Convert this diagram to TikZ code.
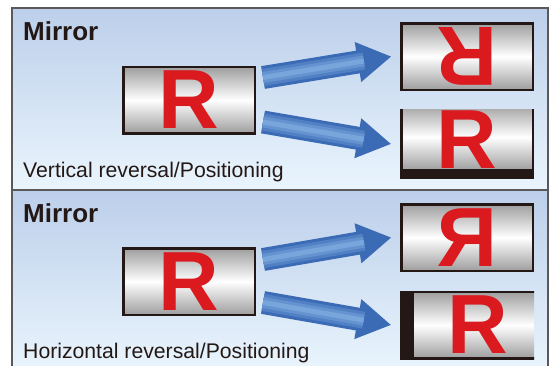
\documentclass[tikz,border=0pt]{standalone}
\usepackage{fontspec}
\setmainfont{Liberation Sans}
\usepackage{tikz}
\usetikzlibrary{arrows.meta}
\definecolor{ink}{HTML}{231815}
\definecolor{framegray}{HTML}{5A5858}
\definecolor{panetop}{HTML}{BCCFEA}
\definecolor{panebot}{HTML}{EAF5FD}
\definecolor{boxgray}{HTML}{9E9E9E}
\definecolor{rred}{HTML}{DA1A1F}
\definecolor{arrowdark}{HTML}{3C6BB6}
\definecolor{arrowlight}{HTML}{7AA8DE}

\begin{document}
\begin{tikzpicture}[x=1pt, y=-1pt, font=\fontsize{21.2}{21.2}\selectfont,
	rbox/.style={draw=ink, line width=2.5pt, top color=boxgray, bottom color=boxgray, middle color=white,
		minimum width=131.5pt, minimum height=66.5pt, inner sep=0pt},
	rframe/.style={fill=ink, minimum width=134pt, minimum height=69pt, inner sep=0pt},
	rletter/.style={text=rred, font=\fontsize{84}{84}\selectfont\bfseries, inner sep=0pt, text depth=0pt},
	title/.style={anchor=base west, text=ink, font=\fontsize{26}{26}\selectfont\bfseries, inner sep=0pt},
	caption/.style={anchor=base west, text=ink, inner sep=0pt}]
	\useasboundingbox (0,0) rectangle (557,365);
	\shade [top color=panetop, bottom color=panebot] (12,8) rectangle (548,190);
	\shade [top color=panetop, bottom color=panebot] (12,190) rectangle (548,372);
	\draw [framegray, line width=1.5pt] (12,8) rectangle (548,380);
	\draw [framegray, line width=1.5pt] (12,190) -- (548,190);
	\node[title] (mirror1) at (23,40) {Mirror};
	\node[caption] (cap1) at (23,177) {Vertical reversal/Positioning};
	\node[title] (mirror2) at (23,222) {Mirror};
	\node[caption] (cap2) at (23,358) {Horizontal reversal/Positioning};
	% vertical reversal
	\node[rbox] (src1) at (189,100) {};
	\node[rletter] (r1) at (src1) {R};
	\node[rbox] (dsta1) at (467,56.5) {};
	\node[rletter, rotate=180] (ra1) at (dsta1) {R};
	\node[rframe] (dstb1) at (467,144) {};
	\begin{scope}
		\clip (dstb1.south west) rectangle (dstb1.north east);
		\node[rbox] (shb1) at ([shift={(0,-7)}]dstb1.center) {};
	\end{scope}
	\node[rletter] (rb1) at ([shift={(0,2.5)}]shb1.center) {R};
	% horizontal reversal
	\node[rbox] (src2) at (189,281.5) {};
	\node[rletter] (r2) at (src2) {R};
	\node[rbox] (dsta2) at (467,237.5) {};
	\node[rletter, xscale=-1] (ra2) at (dsta2) {R};
	\node[rframe] (dstb2) at (467,325) {};
	\begin{scope}
		\clip (dstb2.south west) rectangle (dstb2.north east);
		\node[rbox] (shb2) at ([shift={(11,0)}]dstb2.center) {};
	\end{scope}
	\node[rletter] (rb2) at (shb2.center) {R};
	\foreach \s/\d/\dy in {src1/dsta1/-22.5, src1/dstb1/22, src2/dsta2/-22, src2/dstb2/21} {
		\draw [line width=23pt, arrowdark, -{Triangle[length=34pt,width=38pt]}] ([shift={(7,\dy)}]\s.east) -- ([shift={(-8.5,0)}]\d.west);
		\foreach \w/\m in {17/35, 11/65, 5/95}
			\draw [line width=\w pt, arrowlight!\m!arrowdark, shorten >=28pt] ([shift={(7,\dy)}]\s.east) -- ([shift={(-8.5,0)}]\d.west);
	}
\end{tikzpicture}
\end{document}
